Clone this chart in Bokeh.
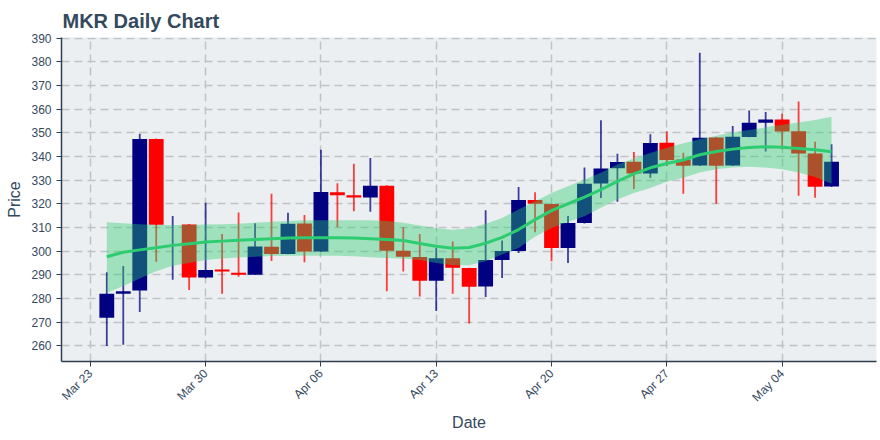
import numpy as np
import pandas as pd
from math import pi
from bokeh.plotting import figure
from bokeh.models import Range1d, FixedTicker, DatetimeTickFormatter, ColumnDataSource
from bokeh.embed import file_html
from bokeh.resources import INLINE

# ---- data ----
dates = pd.date_range("2020-03-24", "2020-05-07", freq="D")

open_ = [271.8, 281.9, 283.3, 347.4, 300.4, 311.2, 288.8, 292.2, 290.8, 290.0,
         301.8, 298.8, 311.6, 299.8, 324.9, 323.6, 322.6, 327.6, 300.1, 297.5,
         287.4, 297.0, 292.8, 285.0, 296.2, 300.0, 321.6, 319.9, 301.3, 311.9,
         328.6, 335.0, 337.8, 332.8, 345.8, 338.7, 336.2, 348.0, 336.2, 348.2,
         354.3, 355.6, 350.7, 341.3, 327.3]
high = [291.0, 293.7, 349.6, 347.6, 314.8, 311.4, 320.4, 307.2, 316.3, 311.8,
        324.2, 316.2, 315.2, 342.8, 328.7, 336.9, 339.4, 327.8, 310.1, 307.2,
        301.4, 304.0, 292.9, 317.3, 304.5, 327.1, 324.9, 320.0, 314.8, 335.3,
        355.3, 341.1, 341.9, 349.4, 350.7, 341.6, 383.8, 348.2, 352.9, 359.4,
        358.8, 358.1, 363.2, 346.2, 345.2]
low = [259.9, 260.4, 274.2, 295.5, 287.9, 283.5, 288.5, 281.9, 289.1, 289.9,
       295.8, 298.6, 295.3, 299.6, 310.1, 316.8, 316.6, 283.0, 291.4, 280.8,
       274.7, 282.0, 269.4, 280.6, 288.6, 299.2, 308.0, 295.7, 295.0, 311.7,
       322.4, 320.8, 326.2, 331.0, 336.0, 324.2, 336.0, 320.0, 336.0, 348.1,
       342.1, 343.0, 323.4, 322.5, 327.1]
close = [281.9, 283.0, 347.4, 311.1, 300.4, 288.8, 292.0, 291.4, 290.0, 301.9,
         298.8, 311.5, 299.8, 325.0, 323.6, 322.6, 327.6, 300.1, 297.6, 287.4,
         297.0, 292.9, 284.9, 296.2, 300.0, 321.6, 320.0, 301.3, 311.9, 328.5,
         334.9, 337.7, 332.8, 345.7, 338.5, 336.1, 347.9, 336.1, 348.3, 354.3,
         355.6, 350.6, 341.2, 327.2, 337.8]

trend_mid = [297.6, 299.5, 300.5, 301.4, 302.4, 303.1, 303.8, 304.2, 304.6, 304.9,
             305.2, 305.5, 305.6, 305.6, 305.6, 305.5, 305.2, 304.9, 304.5, 303.2,
             302.0, 301.2, 301.5, 303.3, 305.8, 309.1, 313.3, 317.1, 320.0, 322.8,
             326.0, 329.5, 332.6, 335.2, 337.0, 338.5, 340.7, 342.1, 343.1, 343.8,
             344.1, 343.9, 343.4, 342.8, 342.0]
band_upper = [312.2, 311.8, 311.3, 311.0, 311.0, 311.0, 311.2, 311.3, 311.5, 312.0,
              312.4, 312.7, 313.0, 313.0, 313.0, 313.0, 313.0, 312.7, 312.0, 310.8,
              309.6, 309.0, 309.6, 311.5, 314.0, 317.6, 321.1, 324.6, 327.4, 330.3,
              333.1, 336.6, 339.1, 341.5, 343.7, 345.6, 347.3, 348.8, 350.2, 351.2,
              352.3, 353.4, 354.4, 355.4, 356.8]
band_lower = [282.3, 285.2, 288.4, 291.5, 293.8, 294.9, 296.2, 296.9, 297.3, 297.6,
              297.9, 298.0, 298.0, 298.0, 298.0, 297.8, 297.4, 297.1, 296.7, 296.2,
              295.0, 294.0, 294.0, 295.7, 298.5, 301.3, 306.0, 309.8, 312.3, 314.7,
              318.3, 321.8, 324.6, 326.7, 329.3, 331.0, 333.2, 334.6, 335.3, 335.6,
              335.3, 334.6, 333.2, 331.3, 328.5]

tick_dates = ["2020-03-23", "2020-03-30", "2020-04-06", "2020-04-13",
              "2020-04-20", "2020-04-27", "2020-05-04"]
price_ticks = list(range(260, 391, 10))

# ---- derived ----
o = np.array(open_)
c = np.array(close)
inc = c >= o
body_top = np.maximum(o, c)
body_bot = np.minimum(o, c)
colors = np.where(inc, "#000080", "#ff0000")

src = ColumnDataSource(dict(x=dates, open=o, close=c, high=high, low=low,
                            top=body_top, bottom=body_bot, color=colors,
                            mid=trend_mid, up=band_upper, lo=band_lower))

DAY = 86400000
x_start = pd.Timestamp("2020-03-21 06:00")
x_end = pd.Timestamp("2020-05-09 17:30")

TEXT = "#34495e"
AXIS = "#2c3e50"
FONT = "Liberation Sans"

p = figure(width=880, height=440, x_axis_type="datetime",
           x_range=Range1d(x_start, x_end), y_range=Range1d(253.3, 390.3),
           output_backend="svg", toolbar_location=None,
           min_border_left=61, min_border_right=4, min_border_top=37, min_border_bottom=79,
           background_fill_color="#eceff1", border_fill_color="white",
           outline_line_color=None)

p.title.text = "MKR Daily Chart"
p.title.text_font = FONT
p.title.text_font_size = "20px"
p.title.text_font_style = "bold"
p.title.text_color = TEXT
p.title.offset = 1
p.title.standoff = 12

p.segment(x0="x", y0="high", x1="x", y1="low", source=src,
          line_color="color", line_width=1.8, line_alpha=0.75)
p.vbar(x="x", width=0.9 * DAY, top="top", bottom="bottom", source=src,
       fill_color="color", line_color=None)
p.varea(x="x", y1="lo", y2="up", source=src, fill_color="#2ecc71", fill_alpha=0.4)
p.line(x="x", y="mid", source=src, line_color="#2ecc71", line_width=3)

tick_ms = [pd.Timestamp(d).value // 10**6 for d in tick_dates]
p.xaxis.ticker = FixedTicker(ticks=tick_ms)
p.xaxis.formatter = DatetimeTickFormatter(days="%b %d", months="%b %d", hours="%b %d")
p.xaxis.major_label_orientation = pi / 4
p.yaxis.ticker = FixedTicker(ticks=price_ticks)

p.xaxis.axis_label = "Date"
p.yaxis.axis_label = "Price"
for ax in (p.xaxis, p.yaxis):
    ax.axis_label_text_font = FONT
    ax.axis_label_text_font_size = "16px"
    ax.axis_label_text_font_style = "normal"
    ax.axis_label_text_color = TEXT
    ax.major_label_text_font = FONT
    ax.major_label_text_font_size = "12px"
    ax.major_label_text_color = TEXT
    ax.axis_line_color = AXIS
    ax.axis_line_width = 1.5
    ax.major_tick_line_color = AXIS
    ax.major_tick_out = 5
    ax.major_tick_in = 0
    ax.minor_tick_line_color = None
p.xaxis.axis_label_standoff = 2

for g in (p.xgrid, p.ygrid):
    g.grid_line_color = "#bfc3c6"
    g.grid_line_dash = "8 5"
    g.grid_line_width = 1.5

open("out.html", "w").write(file_html(p, INLINE))
